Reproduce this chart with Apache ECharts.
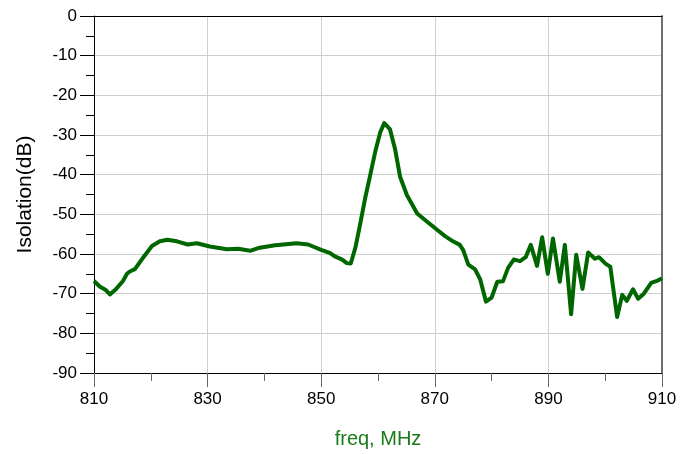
<!DOCTYPE html>
<html>
<head>
<meta charset="utf-8">
<script src="https://cdn.jsdelivr.net/npm/echarts@6/dist/echarts.min.js"></script>
<style>
  html, body { margin: 0; padding: 0; background: #fff; }
  #chart { width: 694px; height: 454px; }
</style>
</head>
<body>
<div id="chart"></div>
<script>
// values
const freq = [
  810, 811, 812, 812.8, 813.9, 815.1, 815.8, 816.3, 817.2, 818.6,
  820.2, 821.6, 822.9, 824.6, 826.5, 828.1, 830.4, 833.4, 835.4, 837.5,
  838.9, 841.9, 845.7, 847.7, 850.1, 851.5, 852.4, 853.7, 854.5, 855.2,
  856, 856.8, 857.7, 858.6, 859.5, 860.4, 861.1, 862.1, 863, 863.9,
  865.1, 866.9, 868.6, 870.4, 871.8, 873.2, 874.4, 875, 875.9, 877.1,
  878, 879, 880, 881, 882, 882.9, 883.9, 885, 886, 886.9,
  888, 888.9, 889.9, 890.8, 892, 892.9, 894, 894.9, 896, 897,
  898.2, 898.9, 900.1, 900.9, 902.1, 903, 903.8, 904.9, 905.8, 906.8,
  908.1, 909.1, 910
];
const isolation = [
  -66.8, -68.2, -69, -70.2, -68.8, -66.8, -65, -64.4, -63.8, -61,
  -58, -56.8, -56.4, -56.8, -57.6, -57.3, -58.1, -58.8, -58.7, -59.2,
  -58.5, -57.8, -57.3, -57.6, -59, -59.7, -60.6, -61.4, -62.3, -62.4,
  -58.5, -52.9, -46.2, -40.3, -34.3, -29.3, -27, -28.5, -33.5, -40.6,
  -45.2, -49.8, -51.8, -53.9, -55.5, -56.8, -57.7, -59, -62.7, -63.9,
  -66.4, -72, -71, -67, -66.9, -63.5, -61.4, -61.8, -60.8, -57.7,
  -63, -55.8, -65, -56.1, -67, -57.7, -75.2, -60.2, -68.8, -59.6,
  -61.2, -60.8, -62.5, -63.2, -75.9, -70.3, -71.8, -68.9, -71.3, -70,
  -67.3, -66.8, -66.1
];

const font = "Liberation Sans, Arial, sans-serif";
const chart = echarts.init(document.getElementById("chart"));

chart.setOption({
  animation: false,
  grid: { left: 94, right: 32, top: 16, bottom: 78 },
  xAxis: [
    {
      type: "value",
      min: 810,
      max: 910,
      interval: 20,
      name: "freq, MHz",
      nameLocation: "middle",
      nameGap: 56,
      nameTextStyle: { color: "#187a18", fontSize: 20, fontFamily: font },
      axisLine: { onZero: false, lineStyle: { color: "#000", width: 1 } },
      axisTick: { show: true, length: 14, lineStyle: { color: "#666" } },
      minorTick: { show: true, splitNumber: 2, length: 8, lineStyle: { color: "#666" } },
      axisLabel: { color: "#000", fontSize: 17, fontFamily: font, margin: 18 },
      splitLine: { show: true, lineStyle: { color: "#cfcfcf", width: 1 } },
    },
    {
      type: "value",
      position: "top",
      min: 810,
      max: 910,
      axisLine: { show: true, lineStyle: { color: "#000", width: 1 } },
      axisTick: { show: false },
      axisLabel: { show: false },
      splitLine: { show: false },
    },
  ],
  yAxis: [
    {
      type: "value",
      min: -90,
      max: 0,
      interval: 10,
      name: "Isolation(dB)",
      nameLocation: "middle",
      nameGap: 58,
      nameTextStyle: { color: "#000", fontSize: 21, fontFamily: font },
      axisLine: { show: true, onZero: false, lineStyle: { color: "#000", width: 1 } },
      axisTick: { show: true, length: 14, lineStyle: { color: "#000" } },
      minorTick: { show: true, splitNumber: 2, length: 8, lineStyle: { color: "#000" } },
      axisLabel: { color: "#000", fontSize: 17, fontFamily: font, margin: 17 },
      splitLine: { show: true, lineStyle: { color: "#cfcfcf", width: 1 } },
    },
    {
      type: "value",
      position: "right",
      min: -90,
      max: 0,
      axisLine: { show: true, lineStyle: { color: "#707070", width: 2 } },
      axisTick: { show: false },
      axisLabel: { show: false },
      splitLine: { show: false },
    },
  ],
  series: [
    {
      type: "line",
      data: freq.map((f, i) => [f, isolation[i]]),
      showSymbol: false,
      lineStyle: { color: "#006600", width: 4, join: "round" },
    },
  ],
});
</script>
</body>
</html>
